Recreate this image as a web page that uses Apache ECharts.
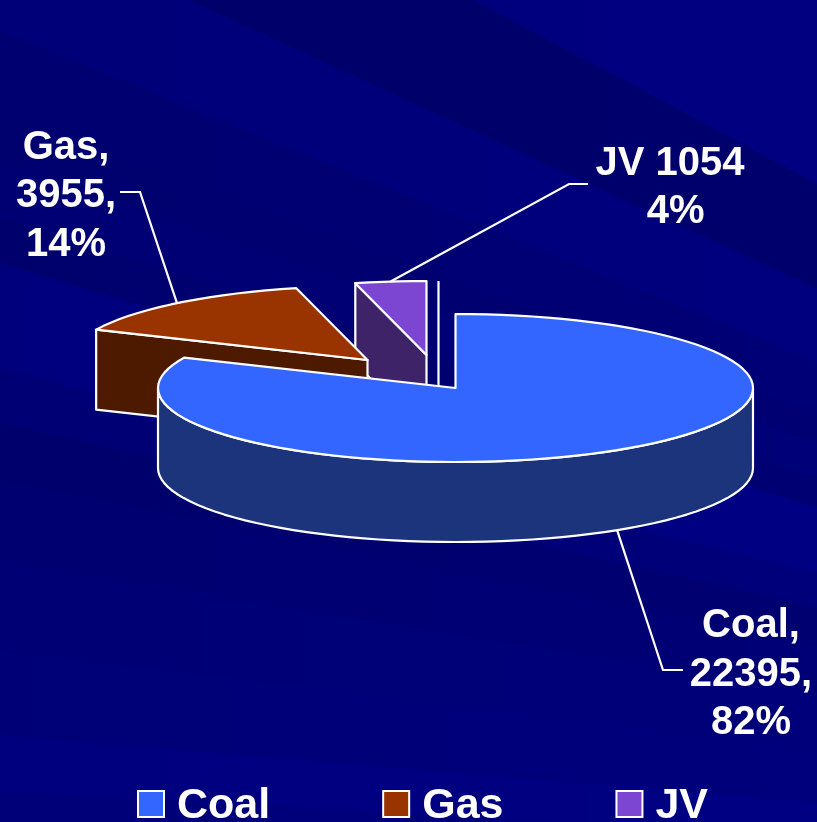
<!DOCTYPE html>
<html><head><meta charset="utf-8">
<script src="https://cdn.jsdelivr.net/npm/echarts@6/dist/echarts.min.js"></script>
<style>html,body{margin:0;padding:0;background:#000080}#c{width:817px;height:822px}</style>
</head><body><div id="c"></div>
<script>
const categories = ['Coal', 'Gas', 'JV'];
const values = [22395, 3955, 1054];
const labelTexts = ['Coal,\n22395,\n82%', 'Gas,\n3955,\n14%', 'JV 1054\n 4%'];
const topColors = ['#3366FF', '#993300', '#7C46D2'];
const wallColors = ['#1B347C', '#4D1A00', '#3E2368'];

const total = values.reduce((a, b) => a + b, 0);
const CX = 455.5, CY = 388, RX = 297.5, RY = 74, DEPTH = 80;
// exploded offset of each slice, label centre, leader elbow
const explode = [[0, 0], [-88, -28], [-29, -33]];
const labelPos = [[751, 674.5], [66, 196], [670, 188]];
const elbows = [[[663, 670], [683, 670]], [[140, 192], [120, 192]], [[569, 184], [588, 184]]];

const spans = [];
let acc = 0;
values.forEach(v => { const s = acc; acc += v / total * 360; spans.push([s, acc]); });

function pt(i, deg, depth) {
  const a = deg * Math.PI / 180;
  return [CX + explode[i][0] + RX * Math.sin(a), CY + explode[i][1] - RY * Math.cos(a) + (depth || 0)];
}
function apex(i, depth) { return [CX + explode[i][0], CY + explode[i][1] + (depth || 0)]; }
function arc(i, from, to, depth) {
  const out = [], n = Math.max(2, Math.round(Math.abs(to - from) / 3));
  for (let k = 0; k <= n; k++) out.push(pt(i, from + (to - from) * k / n, depth));
  return out;
}
const edge = { stroke: '#fff', lineWidth: 2.2, lineJoin: 'round' };
const thin = { stroke: '#fff', lineWidth: 2.2, fill: null };

function renderSlice(i) {
  return function () {
    const [s, e] = spans[i], kids = [];
    const poly = (points, fill) => kids.push({ type: 'polygon', shape: { points }, style: Object.assign({ fill }, edge) });
    if (i === 0) {
      poly(arc(0, 90, 270, 0).concat(arc(0, 270, 90, DEPTH)), wallColors[0]);
    } else {
      poly([apex(i), pt(i, s), pt(i, s, DEPTH), apex(i, DEPTH)], wallColors[i]);
    }
    poly([apex(i)].concat(arc(i, s, e)), topColors[i]);
    if (i === 2) {
      kids.push({ type: 'polyline', shape: { points: [[apex(i)[0] + 12, pt(i, e)[1]], [apex(i)[0] + 12, CY - 2]] }, style: thin });
    }
    const mid = (s + e) / 2;
    const anchor = i === 0 ? pt(i, mid, DEPTH) : pt(i, mid);
    kids.push({ type: 'polyline', shape: { points: [anchor].concat(elbows[i]) }, style: thin });
    kids.push({ type: 'text', x: labelPos[i][0], y: labelPos[i][1], style: {
      text: labelTexts[i], fill: '#fff', align: 'center', verticalAlign: 'middle',
      font: 'bold 40px "Liberation Sans", Arial, sans-serif', lineHeight: 48.5 } });
    return { type: 'group', children: kids };
  };
}

// slices are painted back to front
const order = [2, 1, 0];
const series = order.map(i => ({
  type: 'custom', name: categories[i], coordinateSystem: 'none', silent: true,
  itemStyle: { color: topColors[i] }, animation: false,
  data: [values[i]], renderItem: renderSlice(i)
}));

// backdrop: navy with soft bands fanning out of a point far off to the lower right.
// Each band: y where it meets the left edge (start, end), strength (negative lightens).
const FAN = [2180, 915];
const bands = [[-700, -254, -.1], [-254, -87, .24], [-87, 31, -.04], [31, 115, .1], [115, 160, .15], [160, 217, .06],
  [217, 263, .17], [263, 369, -.13], [369, 423, .02], [423, 480, .18], [480, 560, .1], [560, 650, .03], [735, 790, -.14], [790, 900, -.05]];
const backdrop = [{ type: 'rect', shape: { x: 0, y: 0, width: 817, height: 822 }, style: {
  fill: new echarts.graphic.LinearGradient(0, 0, 1, 0, [{ offset: 0, color: '#000076' }, { offset: 1, color: '#00007C' }]) }, z: -10 }]
  .concat(bands.map(b => ({ type: 'polygon', z: -9,
    shape: { points: [[0, b[0]], FAN, [0, b[1]]] },
    style: { fill: b[2] < 0 ? '#0000B0' : '#000040', opacity: Math.abs(b[2]) } })));

const legendFont = { color: '#fff', fontFamily: '"Liberation Sans", Arial, sans-serif', fontWeight: 'bold', fontSize: 43 };
const chart = echarts.init(document.getElementById('c'), null, { renderer: 'canvas' });
chart.setOption({
  animation: false,
  backgroundColor: '#000080',
  graphic: { elements: backdrop },
  legend: {
    data: categories, left: 137, top: 785, itemWidth: 26, itemHeight: 26, itemGap: 112, padding: 0,
    icon: 'rect', selectedMode: false,
    itemStyle: { borderColor: '#fff', borderWidth: 2 },
    formatter: '{t|{name}}',
    textStyle: Object.assign({}, legendFont, { padding: [0, 0, 0, 8], rich: { t: Object.assign({}, legendFont, { padding: [5, 0, 0, 0] }) } })
  },
  series
});
</script></body></html>
